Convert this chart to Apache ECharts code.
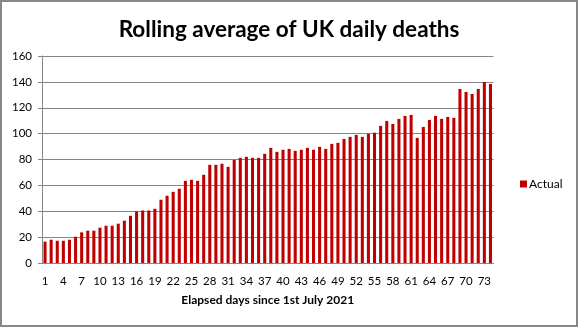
<!DOCTYPE html>
<html>
<head>
<meta charset="utf-8">
<script src="https://cdn.jsdelivr.net/npm/echarts@6/dist/echarts.min.js"></script>
<style>
  html, body { margin: 0; padding: 0; background: #fff; }
  #chart { width: 578px; height: 327px; box-sizing: border-box; border: 2px solid #878787; }
</style>
</head>
<body>
<div id="chart"></div>
<script>
// Elapsed day numbers (1st July 2021 = day 1)
const days = [];
for (let d = 1; d <= 74; d++) days.push(String(d));

// Rolling average of UK daily deaths
const actual = [
  16.5, 18, 17.2, 17.2, 18, 20.3, 23.7, 25, 25, 27.3,
  28.8, 28.8, 30.4, 32.7, 36.5, 39.9, 40.6, 40.6, 41.9, 48.9,
  52, 55, 57.4, 63.5, 64.3, 63.5, 68.2, 75.9, 75.9, 76.7,
  74.3, 79.7, 81.3, 82.1, 81.3, 81.3, 84.4, 89, 85.9, 87.5,
  88.2, 86.7, 87.5, 89, 87.5, 89.8, 88.2, 92.1, 92.9, 95.9,
  97.5, 99, 97.5, 99.8, 100.6, 106, 109.8, 107.5, 111.4, 113.7,
  114.5, 96.7, 105.2, 110.6, 113.7, 111.4, 112.9, 112.2, 134.5, 132.2,
  130.7, 134.5, 139.9, 138.4
];

const seriesName = 'Actual';
const titleText = 'Rolling average of UK daily deaths';
const xAxisTitle = 'Elapsed days since 1st July 2021';

const chart = echarts.init(document.getElementById('chart'));
const font = 'Lato, "Open Sans", sans-serif';
chart.setOption({
  animation: false,
  textStyle: { fontFamily: font },
  title: {
    text: titleText,
    left: 'center',
    top: 11,
    textStyle: { fontFamily: font, fontWeight: 'bold', fontSize: 22.5, color: '#000' }
  },
  legend: {
    data: [seriesName],
    orient: 'vertical',
    left: 513,
    top: 171,
    itemWidth: 7,
    itemHeight: 7,
    itemGap: 4,
    icon: 'rect',
    textStyle: { fontFamily: font, fontSize: 12, color: '#000', padding: [0, 0, 0, -3] }
  },
  grid: { left: 40, right: 82.5, top: 54, bottom: 62, containLabel: false },
  xAxis: {
    type: 'category',
    data: days,
    name: xAxisTitle,
    nameLocation: 'middle',
    nameGap: 31,
    nameTextStyle: { fontFamily: font, fontWeight: 'bold', fontSize: 12, color: '#000' },
    axisLine: { lineStyle: { color: '#868686', width: 1 } },
    axisTick: { interval: 0, length: 4, lineStyle: { color: '#868686' } },
    axisLabel: { interval: 2, color: '#000', fontSize: 11.5, margin: 12 }
  },
  yAxis: {
    type: 'value',
    min: 0,
    max: 160,
    interval: 20,
    axisLine: { show: true, lineStyle: { color: '#868686', width: 1 } },
    axisTick: { show: true, length: 4, lineStyle: { color: '#868686' } },
    axisLabel: { color: '#000', fontSize: 11.5, margin: 10 },
    splitLine: { lineStyle: { color: '#868686', width: 1 } }
  },
  series: [{
    name: seriesName,
    type: 'bar',
    data: actual,
    barCategoryGap: '50%',
    itemStyle: { color: '#C00000' }
  }]
});
</script>
</body>
</html>
